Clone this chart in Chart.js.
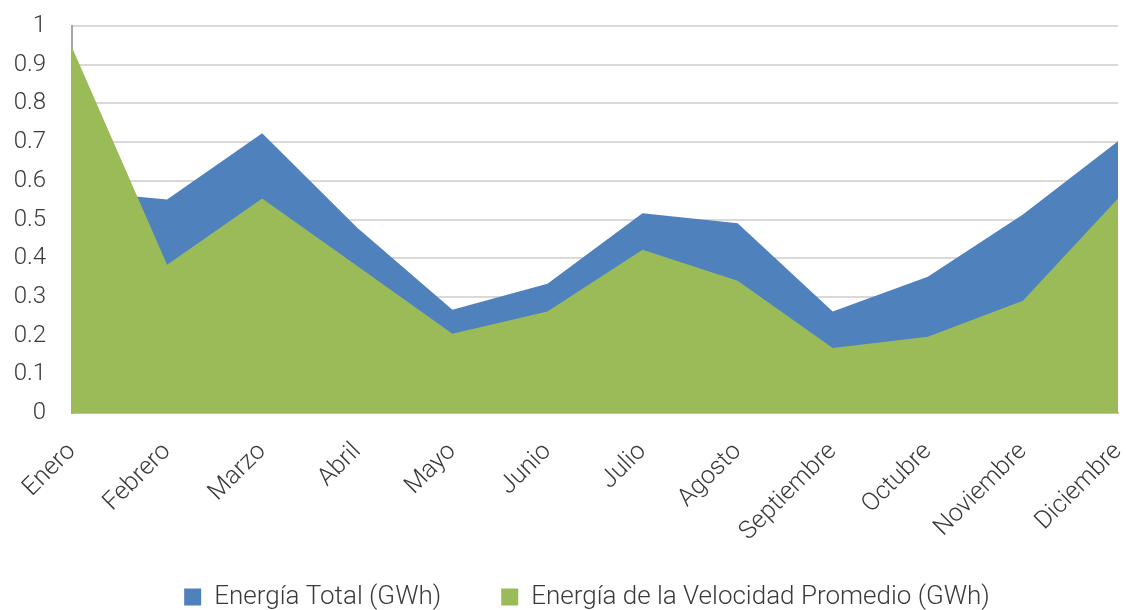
<!DOCTYPE html>
<html>
<head>
<meta charset="utf-8">
<script src="https://cdn.jsdelivr.net/npm/chart.js@4"></script>
<style>
  html, body { margin: 0; padding: 0; background: #fff; }
  #wrap { width: 1126px; height: 610px; }
</style>
</head>
<body>
<div id="wrap"><canvas id="chart" width="1126" height="610"></canvas></div>
<script>
// Datos
const meses = ['Enero', 'Febrero', 'Marzo', 'Abril', 'Mayo', 'Junio', 'Julio',
  'Agosto', 'Septiembre', 'Octubre', 'Noviembre', 'Diciembre'];
const energiaTotal = [0.575, 0.552, 0.723, 0.479, 0.267, 0.334, 0.516, 0.49, 0.262, 0.352, 0.513, 0.702];
const energiaVelPromedio = [0.945, 0.383, 0.554, 0.38, 0.205, 0.262, 0.422, 0.342, 0.168, 0.197, 0.29, 0.554];
const yTicks = [0, 0.1, 0.2, 0.3, 0.4, 0.5, 0.6, 0.7, 0.8, 0.9, 1];

const fontFamily = 'Roboto, "Open Sans", sans-serif';
const textColor = '#3a3a3a';

// quita el relleno automático que Chart.js añade a los ejes
function sinPadding(scale) {
  scale.paddingLeft = 0;
  scale.paddingRight = 0;
  scale.paddingTop = 0;
  scale.paddingBottom = 0;
  // que las etiquetas no se recorten fuera de la caja del eje
  scale._computeLabelArea = () => undefined;
}

const ctx = document.getElementById('chart').getContext('2d');
new Chart(ctx, {
  type: 'line',
  data: {
    labels: meses,
    datasets: [
      {
        label: 'Energía Total (GWh)',
        data: energiaTotal,
        backgroundColor: '#4F81BD',
        borderColor: '#4F81BD',
        borderWidth: 0,
        fill: 'origin',
        pointRadius: 0,
        tension: 0,
        order: 1
      },
      {
        label: 'Energía de la Velocidad Promedio (GWh)',
        data: energiaVelPromedio,
        backgroundColor: '#9BBB59',
        borderColor: '#9BBB59',
        borderWidth: 0,
        fill: 'origin',
        pointRadius: 0,
        tension: 0,
        order: 0
      }
    ]
  },
  options: {
    responsive: false,
    animation: false,
    // el relleno izquierdo desplaza la leyenda hacia la derecha
    layout: { padding: { top: 26, right: 8, left: 56, bottom: 0 } },
    plugins: {
      tooltip: { enabled: false },
      legend: {
        position: 'bottom',
        maxHeight: 86,
        labels: {
          color: textColor,
          font: { family: fontFamily, size: 26, weight: 300 },
          boxWidth: 17,
          boxHeight: 17,
          padding: 60,
          generateLabels: function(chart) {
            // Cuadros sólidos como en Excel
            return chart.data.datasets.map((ds, i) => ({
              text: ds.label,
              fillStyle: ds.backgroundColor,
              strokeStyle: ds.backgroundColor,
              lineWidth: 0,
              hidden: false,
              datasetIndex: i,
              fontColor: textColor
            }));
          }
        }
      }
    },
    scales: {
      x: {
        offset: false,
        grid: { display: false, drawTicks: false },
        border: { color: '#bfbfbf', width: 2 },
        ticks: {
          color: textColor,
          font: { family: fontFamily, size: 25, weight: 300 },
          minRotation: 45,
          maxRotation: 45,
          padding: 24,
          autoSkip: false
        },
        afterFit: function(scale) {
          sinPadding(scale);
          scale.height = 111;
        }
      },
      y: {
        min: 0,
        max: 1,
        afterBuildTicks: function(scale) {
          scale.ticks = yTicks.map(v => ({ value: v }));
        },
        grid: { color: '#d9d9d9', lineWidth: 2, drawTicks: false },
        border: { color: '#a6a6a6', width: 2 },
        ticks: {
          color: textColor,
          font: { family: fontFamily, size: 24, weight: 300 },
          padding: 26,
          callback: v => String(Math.round(v * 10) / 10)
        },
        afterFit: function(scale) {
          sinPadding(scale);
          scale.width = 16;
        }
      }
    }
  }
});
</script>
</body>
</html>
